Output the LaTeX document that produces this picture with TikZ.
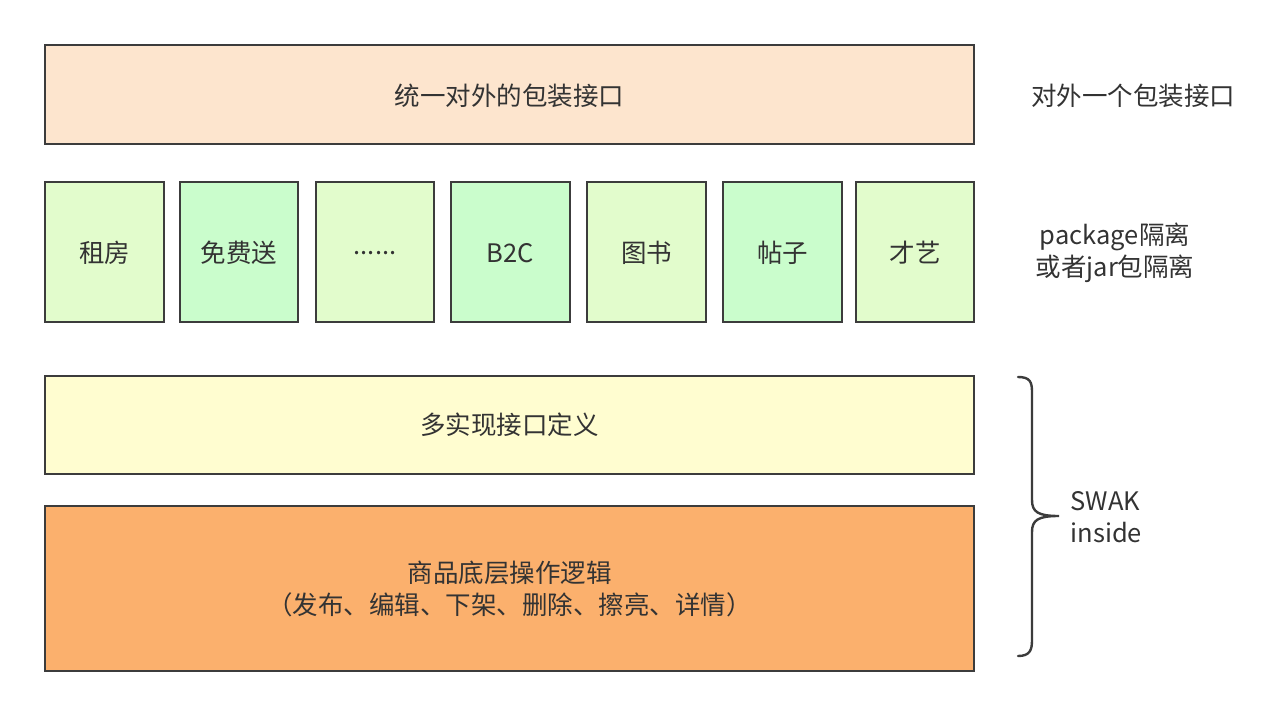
\documentclass[tikz,border=0pt]{standalone}
\usepackage{fontspec}
\setmainfont{Noto Sans CJK SC}
\begin{document}
\begin{tikzpicture}[x=1pt,y=-1pt,
  box/.style={draw=boxline,line width=2.6pt,inner sep=0pt},
  lbl/.style={text=txt,font=\fontsize{25.5}{32}\selectfont,align=center},
  brc/.style={draw=boxline,line width=2.4pt,line cap=round}]
\definecolor{boxline}{HTML}{3C3C3C}
\definecolor{txt}{HTML}{333333}
\definecolor{peach}{HTML}{FDE5CE}
\definecolor{lgreen}{HTML}{E2FCCC}
\definecolor{mint}{HTML}{CAFDCC}
\definecolor{lyellow}{HTML}{FFFDD0}
\definecolor{orange}{HTML}{FBB06D}
\useasboundingbox[fill=white] (0,0) rectangle (1266,708);
% top box
\draw[box,fill=peach] (45,45) rectangle (974,144);
\node[lbl] (top) at (509.5,96) {统一对外的包装接口};
% green boxes
\draw[box,fill=lgreen] (45,182) rectangle (164,322);
\node[lbl] (g1) at (104.5,253) {租房};
\draw[box,fill=mint] (180,182) rectangle (298,322);
\node[lbl] (g2) at (239,253) {免费送};
\draw[box,fill=lgreen] (316,182) rectangle (434,322);
\node[lbl] (g3) at (375,253) {......};
\draw[box,fill=mint] (451,182) rectangle (570,322);
\node[lbl] (g4) at (510.5,253) {B2C};
\draw[box,fill=lgreen] (587,182) rectangle (706,322);
\node[lbl] (g5) at (646.5,253) {图书};
\draw[box,fill=mint] (723,182) rectangle (842,322);
\node[lbl] (g6) at (782.5,253) {帖子};
\draw[box,fill=lgreen] (856,182) rectangle (974,322);
\node[lbl] (g7) at (915,253) {才艺};
% yellow box
\draw[box,fill=lyellow] (45,376) rectangle (974,474);
\node[lbl] (mid) at (509.5,425) {多实现接口定义};
% orange box
\draw[box,fill=orange] (45,506) rectangle (974,671);
\node[lbl] (bot) at (509.5,589) {商品底层操作逻辑\\（发布、编辑、下架、删除、擦亮、详情）};
% right labels
\node[lbl] (r1) at (1133,96) {对外一个包装接口};
\node[lbl] (r2) at (1115,253) {package隔离\\或者jar包隔离};
\node[lbl,align=left,anchor=west] (r3) at (1067,517) {SWAK\\inside};
% brace
\draw[brc] (1018,377) .. controls (1030,377) and (1032,382) .. (1032,392)
  -- (1032,500) .. controls (1032,512) and (1038,516) .. (1059,516)
  .. controls (1038,516) and (1032,520) .. (1032,532)
  -- (1032,640) .. controls (1032,650) and (1030,656) .. (1018,656);
\end{tikzpicture}
\end{document}
